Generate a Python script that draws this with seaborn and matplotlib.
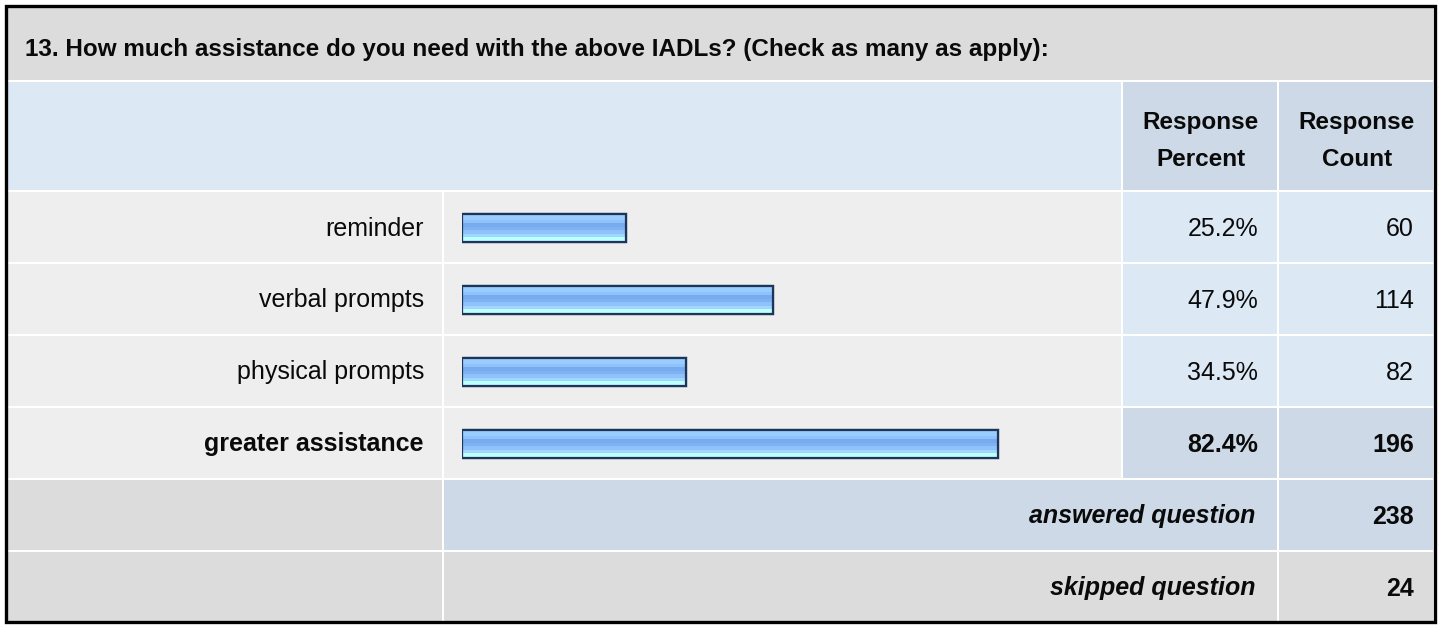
import numpy as np
import pandas as pd
import matplotlib
matplotlib.use("Agg")
import matplotlib.pyplot as plt
from matplotlib.patches import Rectangle
from matplotlib.colors import LinearSegmentedColormap
import seaborn as sns

# ---- data ----
title = "13. How much assistance do you need with the above IADLs? (Check as many as apply):"
categories = ["reminder", "verbal prompts", "physical prompts", "greater assistance"]
percents = [25.2, 47.9, 34.5, 82.4]
counts = [60, 114, 82, 196]
answered_label = "answered question"
skipped_label = "skipped question"
answered_count = 238
skipped_count = 24
header_percent = ["Response", "Percent"]
header_count = ["Response", "Count"]

sns.set_theme(style="white")
plt.rcParams["font.family"] = ["Liberation Sans", "DejaVu Sans"]

W, H = 1440, 625
fig = plt.figure(figsize=(W / 100, H / 100), dpi=100)
fig.patch.set_facecolor("white")
base = fig.add_axes([0, 0, 1, 1])
base.set_xlim(0, W)
base.set_ylim(H, 0)
base.axis("off")

GRAY = "#dcdcdc"
LIGHT = "#eeeeee"
BLUE1 = "#dde8f5"
BLUE2 = "#cdd9e6"
TXT = "#0a0a0a"
FS = 17.5
FSL = 18

def cell(x0, y0, x1, y1, color):
    base.add_patch(Rectangle((x0, y0), x1 - x0, y1 - y0, facecolor=color,
                             edgecolor="none", zorder=1))

def txt(x, y, s, ha="right", fs=FS, **kw):
    base.text(x, y, s, fontsize=fs, color=TXT, ha=ha, va="baseline", zorder=3, **kw)

# column edges
cL = (8, 442)
cB = (444, 1121)
cP = (1123, 1277)
cC = (1279, 1433)

# title row
cell(8, 8, 1433, 80, GRAY)
txt(25, 56, title, ha="left", fontweight="bold")

# header row
cell(8, 82, 1121, 190, BLUE1)
cell(cP[0], 82, cP[1], 190, BLUE2)
cell(cC[0], 82, cC[1], 190, BLUE2)
for (c0, c1), lines in ((cP, header_percent), (cC, header_count)):
    txt((c0 + c1) / 2 + 1, 128.5, lines[0], ha="center", fontweight="bold")
    txt((c0 + c1) / 2 + 1, 165.5, lines[1], ha="center", fontweight="bold")

# data rows
row_top = 192
pitch = 72
imax = int(np.argmax(counts))
for i, (cat, p, c) in enumerate(zip(categories, percents, counts)):
    y0 = row_top + i * pitch
    y1 = y0 + 70
    yc = (y0 + y1) / 2
    hi = i == imax
    cell(cL[0], y0, cL[1], y1, LIGHT)
    cell(cB[0], y0, cB[1], y1, LIGHT)
    cell(cP[0], y0, cP[1], y1, BLUE2 if hi else BLUE1)
    cell(cC[0], y0, cC[1], y1, BLUE2 if hi else BLUE1)
    fw = "bold" if hi else "normal"
    txt(424, yc + 8.5, cat, fs=FSL, fontweight=fw)
    txt(1258, yc + 8.5, f"{p:.1f}%", fs=FSL, fontweight=fw)
    txt(1414, yc + 8.5, f"{c}", fs=FSL, fontweight=fw)

# answered / skipped rows
y0 = row_top + 4 * pitch
cell(cL[0], y0, cL[1], y0 + 70, GRAY)
cell(cB[0], y0, cP[1], y0 + 70, BLUE2)
cell(cC[0], y0, cC[1], y0 + 70, BLUE2)
txt(1255, y0 + 43.5, answered_label, fs=FSL, fontweight="bold", style="italic")
txt(1414, y0 + 43.5, f"{answered_count}", fs=FSL, fontweight="bold")
y0 = row_top + 5 * pitch
cell(cL[0], y0, cL[1], y0 + 70, GRAY)
cell(cB[0], y0, cP[1], y0 + 70, GRAY)
cell(cC[0], y0, cC[1], y0 + 70, GRAY)
txt(1255, y0 + 43.5, skipped_label, fs=FSL, fontweight="bold", style="italic")
txt(1414, y0 + 43.5, f"{skipped_count}", fs=FSL, fontweight="bold")

# outer black border
base.add_patch(Rectangle((5.5, 5.5), 1429, 616.5, facecolor="none",
                         edgecolor="#000000", linewidth=2.4, zorder=4))

# ---- bars via seaborn ----
x0px, scale = 462, 6.5
top_px = row_top - 0.5
ax = fig.add_axes([x0px / W, (H - (top_px + 4 * pitch)) / H, 100 * scale / W, 4 * pitch / H])
ax.patch.set_alpha(0)
df = pd.DataFrame({"category": categories, "percent": percents})
sns.barplot(data=df, x="percent", y="category", orient="h", ax=ax,
            width=28 / 72, color="#88bbf5", edgecolor="#1d3559", linewidth=1.6,
            saturation=1)
ax.set_xlim(0, 100)
ax.set_ylim(3.5, -0.5)
ax.axis("off")

grad_colors = ["#99ccff", "#99ccff", "#8fc3fc", "#77aaee", "#7fb2f2", "#8fc3fb",
               "#a3d6ff", "#bbffff"]
cmap = LinearSegmentedColormap.from_list("bar", grad_colors)
grad = np.linspace(0, 1, 8).reshape(-1, 1)
for patch in list(ax.patches):
    bx, by = patch.get_x(), patch.get_y()
    bw, bh = patch.get_width(), patch.get_height()
    im = ax.imshow(grad, cmap=cmap, aspect="auto", interpolation="nearest",
                   extent=(bx, bx + bw, by + bh, by), zorder=patch.get_zorder() + 0.1)
    im.set_clip_path(patch)
    border = Rectangle((bx, by), bw, bh, facecolor="none", edgecolor="#1d3559",
                       linewidth=1.6, zorder=patch.get_zorder() + 0.2)
    ax.add_patch(border)
ax.set_xlim(0, 100)
ax.set_ylim(3.5, -0.5)

fig.savefig("out.png", dpi=100, facecolor="white")
